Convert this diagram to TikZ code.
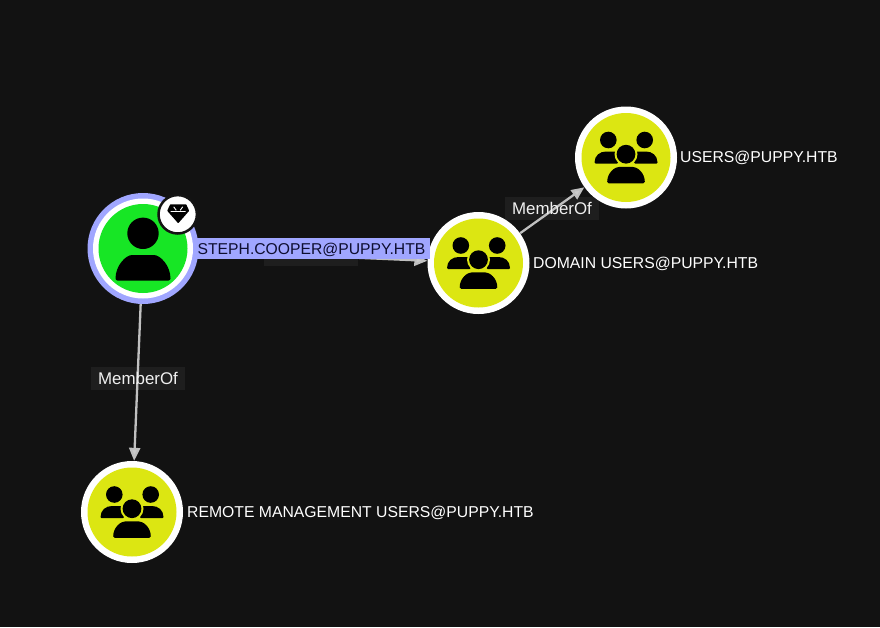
\documentclass[tikz,border=0pt]{standalone}
\usepackage{fontspec}
\setmainfont{Liberation Sans}
\usetikzlibrary{arrows.meta}
\definecolor{bgc}{HTML}{121212}
\definecolor{lav}{HTML}{A0A6FF}
\definecolor{grn}{HTML}{17E625}
\definecolor{yel}{HTML}{DCE612}
\definecolor{edgec}{HTML}{C0C0C0}
\definecolor{tipc}{HTML}{CCCCCC}
\definecolor{boxc}{HTML}{1E1E1E}
\definecolor{lavtxt}{HTML}{0E0E30}
\tikzset{
  x=1pt,y=-1pt,
  gnode/.style={circle,draw=none,fill=white,minimum size=102pt,inner sep=0pt},
  unode/.style={circle,draw=none,fill=lav,minimum size=111pt,inner sep=0pt},
  edgeline/.style={draw=edgec,line width=2.3pt,-{Triangle[length=13pt,width=11pt,fill=tipc]}},
  txt/.style={font=\fontsize{15.75pt}{18pt}\selectfont,text=white,inner sep=0pt,anchor=base west},
  seltxt/.style={font=\fontsize{15.7pt}{18pt}\selectfont,text=lavtxt,inner sep=0pt,anchor=base},
  elbox/.style={fill=boxc,inner sep=0pt,minimum width=94pt,minimum height=23pt},
  eltxt/.style={font=\fontsize{16.9pt}{18pt}\selectfont,text=white!94!black,inner sep=0pt,anchor=base},
  pics/groupicon/.style={code={
    \fill[yel] (0,0) circle[radius=44.5];
    \fill[black] (-17.7,-17.5) circle[radius=8.3];
    \fill[black] (18.7,-17.5) circle[radius=8.3];
    \fill[black,rounded corners=1pt] (-31.5,6) .. controls (-31.5,-2) and (-26,-6) .. (-19,-6) -- (-8,-6) -- (-8,6) -- cycle;
    \fill[black,rounded corners=1pt] (31.5,6) .. controls (31.5,-2) and (26,-6) .. (19,-6) -- (8,-6) -- (8,6) -- cycle;
    \fill[yel] (0,-3.3) circle[radius=11.5];
    \fill[black] (0,-3.3) circle[radius=9.4];
    \fill[black,rounded corners=1.5pt] (-18.8,25.8) .. controls (-18.8,15) and (-11,9.3) .. (-5,9.3) -- (5,9.3) .. controls (11,9.3) and (18.8,15) .. (18.8,25.8) -- cycle;
  }},
  pics/personicon/.style={code={
    \fill[white] (0,0) circle[radius=50];
    \fill[grn] (0,0) circle[radius=44.5];
    \fill[black] (0,-15.2) circle[radius=15.7];
    \fill[black,rounded corners=2pt] (-27.5,32) .. controls (-27.5,17) and (-17,6.5) .. (-9,6.5) -- (9,6.5) .. controls (17,6.5) and (27.5,17) .. (27.5,32) -- cycle;
  }},
  pics/gemicon/.style={code={
    \fill[white,draw=black!92,line width=2.5pt] (0,0) circle[radius=19.2];
    \fill[black,rounded corners=.6pt] (-7.5,-10) -- (8.5,-10) -- (11.5,-3.5) -- (0.5,9) -- (-10.5,-3.5) -- cycle;
    \draw[white,line width=.9pt] (-4,-7.5) -- (-1.5,-4) (5,-7.5) -- (2.5,-4) (-7,-2.8) -- (8,-2.8);
  }}
}
\begin{document}
\begin{tikzpicture}
\fill[bgc] (0,0) rectangle (880,627);
\useasboundingbox (0,0) rectangle (880,627);
% edge label plates, under the lines
\node[elbox] (boxA) at (552,208.5) {};
\node[elbox] (boxB) at (138,378.5) {};
\node[elbox] (boxC) at (311,254.5) {};
% nodes
\node[unode] (steph) at (143,248.5) {};
\node[gnode] (domain) at (478.5,263) {};
\node[gnode] (users) at (626,157.5) {};
\node[gnode] (remote) at (132,512) {};
% connectors
\draw[edgeline] (steph) -- (domain);
\draw[edgeline] (steph) -- (remote);
\draw[edgeline] (domain) -- (users);
% icons
\pic at (steph) {personicon};
\pic at (domain) {groupicon};
\pic at (users) {groupicon};
\pic at (remote) {groupicon};
\pic at (177.7,214.3) {gemicon};
% labels
\node[eltxt] (mA) at (552,214) {MemberOf};
\node[eltxt] (mB) at (138,384) {MemberOf};
\node[fill=lav,minimum width=234pt,minimum height=21pt,inner sep=0pt] (selbox) at (313,248.5) {};
\node[seltxt] (stephL) at (311.5,254.5) {STEPH.COOPER@PUPPY.HTB};
\node[txt] (domainL) at (533,268.5) {DOMAIN USERS@PUPPY.HTB};
\node[txt] (usersL) at (680,162.5) {USERS@PUPPY.HTB};
\node[txt] (remoteL) at (187,517.5) {REMOTE MANAGEMENT USERS@PUPPY.HTB};
\end{tikzpicture}
\end{document}
